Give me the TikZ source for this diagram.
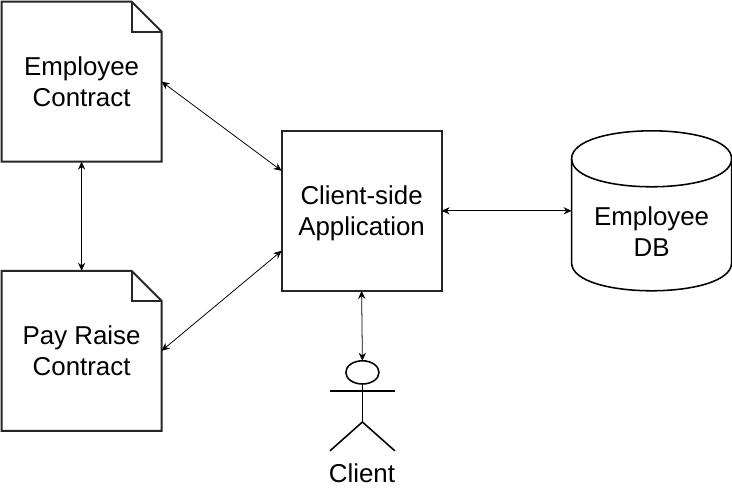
\documentclass[tikz,border=0pt]{standalone}
\usepackage{fontspec}
\setmainfont{Liberation Sans}
\usetikzlibrary{arrows.meta}
\usetikzlibrary{calc,positioning,shapes.geometric}

\begin{document}
\begin{tikzpicture}
		\useasboundingbox (0,0) rectangle (18.3,12.2);

		\tikzset{
			boxtext/.style={align=center,text=black,font=\fontsize{18.4}{22}\selectfont},
			outline/.style={line width=1.4pt,line join=miter,draw=black!85},
			thinline/.style={line width=1.1pt},
			docbox/.style={boxtext,minimum size=4cm,outer sep=0pt},
			link/.style={<->,>={Stealth[length=2mm,width=1.8mm]},line width=0.55pt},
		}

		\begin{scope}[every node/.style={docbox}]
			\node (empcontract) at (2.04,10.16) {Employee\\Contract};
			\node (raisecontract) at (2.04,3.43) {Pay Raise\\Contract};
			\node (empdb) at (16.29,6.93) {};
		\end{scope}

		\node[docbox,outline] (clientapp) at (9.04,6.93) {Client-side\\\raisebox{0pt}[\height][0pt]{Application}};
		\node[boxtext] (empdbtext) at (16.29,6.4) {Employee\\DB};

		\foreach \doc in {empcontract,raisecontract} {
			\draw[outline] (\doc.north west) -- ($(\doc.north east)+(-0.75,0)$)
				-- ($(\doc.north east)+(0,-0.75)$) -- (\doc.south east)
				-- (\doc.south west) -- cycle;
			\draw[outline] ($(\doc.north east)+(-0.75,0)$) |- ($(\doc.north east)+(0,-0.75)$);
		}

		% database outline
		\coordinate (dbtopleft) at ($(empdb.north west)+(0,-0.7)$);
		\coordinate (dbtopright) at ($(empdb.north east)+(0,-0.7)$);
		\coordinate (dbbotleft) at ($(empdb.south west)+(0,0.7)$);
		\coordinate (dbbotright) at ($(empdb.south east)+(0,0.7)$);
		\draw[thinline] (dbtopleft) .. controls ($(dbtopleft)+(0,0.933)$) and ($(dbtopright)+(0,0.933)$) .. (dbtopright)
			-- (dbbotright) .. controls ($(dbbotright)+(0,-0.933)$) and ($(dbbotleft)+(0,-0.933)$) .. (dbbotleft) -- cycle;
		\draw[thinline] (dbtopleft) .. controls ($(dbtopleft)+(0,-0.933)$) and ($(dbtopright)+(0,-0.933)$) .. (dbtopright);

		% actor
		\node[ellipse,draw,thinline,minimum width=0.83cm,minimum height=0.58cm,inner sep=0pt,outer sep=0pt] (head) at (9.06,2.89) {};
		\coordinate (hip) at ($(head.south)+(0,-0.95)$);
		\coordinate (armleft) at (8.25,2.42);
		\coordinate (armright) at (9.87,2.42);
		\coordinate (footleft) at (8.25,0.93);
		\coordinate (footright) at (9.87,0.93);
		\draw[thinline] (head.south) -- (hip);
		\draw[thinline] (armleft) -- (armright);
		\draw[thinline] (footleft) -- (hip) -- (footright);
		\node[boxtext] (clientname) at (9.05,0.36) {Client};

		\begin{scope}[every path/.style={link}]
			\draw (empcontract.east) -- ($(clientapp.north west)!0.5!(clientapp.west)$);
			\draw (raisecontract.east) -- ($(clientapp.south west)!0.5!(clientapp.west)$);
			\draw (empcontract.south) -- (raisecontract.north);
			\draw (clientapp.east) -- (empdb.west);
			\draw (clientapp.south) -- (head.north);
		\end{scope}
	\end{tikzpicture}
\end{document}
